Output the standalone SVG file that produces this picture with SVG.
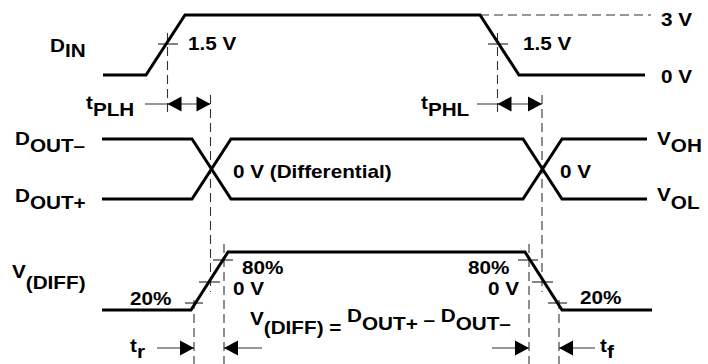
<svg xmlns="http://www.w3.org/2000/svg" xmlns:xlink="http://www.w3.org/1999/xlink" width="708" height="364" viewBox="0 0 708 364">
  <style>
    .sig { fill: none; stroke: #000; stroke-width: 3; stroke-linejoin: miter; stroke-linecap: butt; }
    .dash { fill: none; stroke: #333; stroke-width: 1.1; stroke-dasharray: 9 5; }
    .tick { fill: none; stroke: #333; stroke-width: 1.2; }
    .dim { fill: none; stroke: #333; stroke-width: 1.2; }
    .head { fill: #000; stroke: none; }
    text { font-family: "Liberation Sans", Arial, Helvetica, sans-serif; font-weight: bold; font-size: 18px; fill: #000; }
  </style>
  <defs>
    <path id="tri" d="M0,0 L-14,-7.5 L-14,7.5 Z"/>
  </defs>

  <rect width="708" height="364" fill="#fff"/>

  <g id="connectors">
    <!-- 3 V reference -->
    <line class="dash" x1="480" y1="15" x2="651" y2="15"/>
    <!-- 1.5 V ticks -->
    <line class="tick" x1="158" y1="44" x2="178" y2="44"/>
    <line class="tick" x1="488" y1="44" x2="508" y2="44"/>
    <!-- vertical dashed references -->
    <line class="dash" x1="167.5" y1="33" x2="167.5" y2="115"/>
    <line class="dash" x1="210.5" y1="95" x2="210.5" y2="292"/>
    <line class="dash" x1="497.5" y1="33" x2="497.5" y2="115"/>
    <line class="dash" x1="542" y1="95" x2="542" y2="292"/>
    <line class="dash" x1="194" y1="300" x2="194" y2="364"/>
    <line class="dash" x1="224" y1="244" x2="224" y2="364"/>
    <line class="dash" x1="529" y1="244" x2="529" y2="364"/>
    <line class="dash" x1="559" y1="300" x2="559" y2="364"/>
    <!-- V(DIFF) level ticks -->
    <line class="tick" x1="185" y1="303" x2="203" y2="303"/>
    <line class="tick" x1="199" y1="282" x2="220" y2="282"/>
    <line class="tick" x1="213" y1="260" x2="233" y2="260"/>
    <line class="tick" x1="518" y1="260" x2="538" y2="260"/>
    <line class="tick" x1="532" y1="282" x2="553" y2="282"/>
    <line class="tick" x1="548" y1="303" x2="567" y2="303"/>
    <!-- tPLH -->
    <line class="dim" x1="145" y1="104" x2="210" y2="104"/>
    <use xlink:href="#tri" class="head" transform="translate(167.5,104) scale(-1,1)"/>
    <use xlink:href="#tri" class="head" transform="translate(210.5,104)"/>
    <!-- tPHL -->
    <line class="dim" x1="477" y1="104" x2="542" y2="104"/>
    <use xlink:href="#tri" class="head" transform="translate(497.5,104) scale(-1,1)"/>
    <use xlink:href="#tri" class="head" transform="translate(542,104)"/>
    <!-- tr -->
    <line class="dim" x1="157" y1="348" x2="194" y2="348"/>
    <use xlink:href="#tri" class="head" transform="translate(194,348)"/>
    <line class="dim" x1="224" y1="348" x2="262" y2="348"/>
    <use xlink:href="#tri" class="head" transform="translate(224,348) scale(-1,1)"/>
    <!-- tf -->
    <line class="dim" x1="492" y1="348" x2="529" y2="348"/>
    <use xlink:href="#tri" class="head" transform="translate(529,348)"/>
    <line class="dim" x1="559" y1="348" x2="595" y2="348"/>
    <use xlink:href="#tri" class="head" transform="translate(559,348) scale(-1,1)"/>
  </g>

  <g id="din">
    <polyline class="sig" points="103,75 146,75 185,15 480,15 519,75 645,75"/>
  </g>

  <g id="dout-minus">
    <polyline class="sig" points="102,139 192,139 231,199 523,199 562,139 647,139"/>
  </g>

  <g id="dout-plus">
    <polyline class="sig" points="102,199 192,199 231,139 523,139 562,199 647,199"/>
  </g>

  <g id="vdiff">
    <polyline class="sig" points="102,310 191,310 228,252 525,252 562,310 652,310"/>
  </g>

  <g id="labels">
    <text transform="translate(50,52) scale(1.15,1)">D<tspan dy="5">IN</tspan></text>
    <text transform="translate(188,50) scale(1.15,1)">1.5 V</text>
    <text transform="translate(523,50) scale(1.15,1)">1.5 V</text>
    <text transform="translate(661,26) scale(1.15,1)">3 V</text>
    <text transform="translate(661,83) scale(1.15,1)">0 V</text>
    <text transform="translate(86,109) scale(1.15,1)">t<tspan dy="7">PLH</tspan></text>
    <text transform="translate(421,109) scale(1.15,1)">t<tspan dy="7">PHL</tspan></text>
    <text transform="translate(15,145) scale(1.15,1)">D<tspan dy="7">OUT–</tspan></text>
    <text transform="translate(15,202) scale(1.15,1)">D<tspan dy="7">OUT+</tspan></text>
    <text transform="translate(233,178) scale(1.15,1)">0 V (Differential)</text>
    <text transform="translate(560,178) scale(1.15,1)">0 V</text>
    <text transform="translate(657,145) scale(1.15,1)">V<tspan dy="7">OH</tspan></text>
    <text transform="translate(657,201) scale(1.15,1)">V<tspan dy="8">OL</tspan></text>
    <text transform="translate(12,278) scale(1.15,1)">V<tspan dy="11">(DIFF)</tspan></text>
    <text transform="translate(130,305) scale(1.15,1)">20%</text>
    <text transform="translate(242,274) scale(1.15,1)">80%</text>
    <text transform="translate(233,295) scale(1.15,1)">0 V</text>
    <text transform="translate(468,274) scale(1.15,1)">80%</text>
    <text transform="translate(488,295) scale(1.15,1)">0 V</text>
    <text transform="translate(580,304) scale(1.15,1)">20%</text>
    <text transform="translate(250,325) scale(1.15,1)">V<tspan dy="9">(DIFF)</tspan><tspan> = </tspan><tspan dy="-12">D</tspan><tspan dy="8">OUT+</tspan><tspan dy="-4"> – </tspan><tspan dy="-4">D</tspan><tspan dy="8">OUT–</tspan></text>
    <text transform="translate(130,352) scale(1.15,1)">t<tspan dy="6">r</tspan></text>
    <text transform="translate(600,352) scale(1.15,1)">t<tspan dy="6">f</tspan></text>
  </g>
</svg>
